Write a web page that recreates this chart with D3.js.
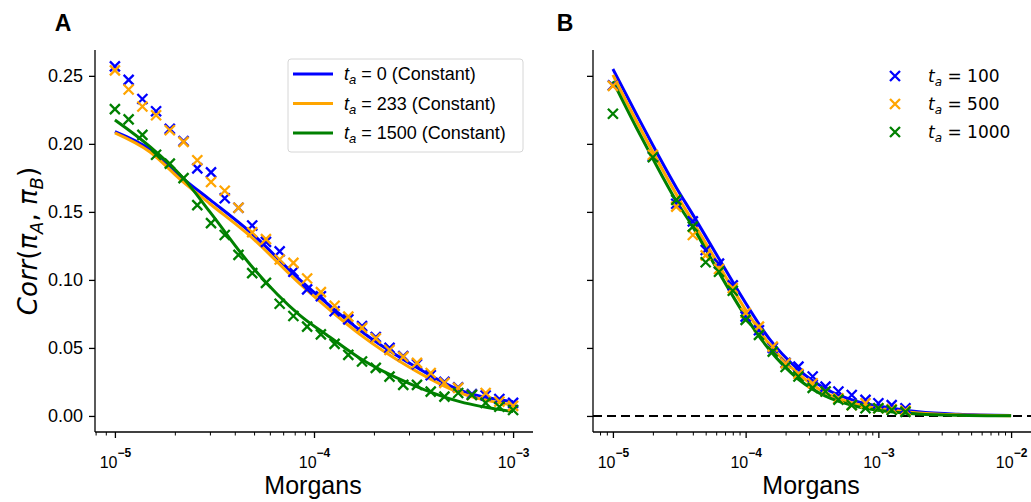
<!DOCTYPE html>
<html>
<head>
<meta charset="utf-8">
<script src="https://cdn.jsdelivr.net/npm/d3@7"></script>
<style>
  body { margin: 0; background: #fff; }
  svg text { font-family: "Liberation Sans", Arial, sans-serif; fill: #000; }
</style>
</head>
<body>
<div id="chart"></div>
<script>
// ---- data ----
// panel A: simulated points (logspace 1e-5 .. 1e-3, 30 points)
const aX = [1.000e-5, 1.172e-5, 1.374e-5, 1.610e-5, 1.887e-5, 2.212e-5, 2.593e-5, 3.039e-5, 3.562e-5, 4.175e-5,
            4.894e-5, 5.736e-5, 6.723e-5, 7.880e-5, 9.237e-5, 1.083e-4, 1.269e-4, 1.487e-4, 1.743e-4, 2.043e-4,
            2.395e-4, 2.807e-4, 3.290e-4, 3.857e-4, 4.520e-4, 5.298e-4, 6.210e-4, 7.279e-4, 8.532e-4, 1.000e-3];
const aBlue = [0.257, 0.247, 0.233, 0.224, 0.211, 0.202, 0.182, 0.179, 0.160, 0.153,
               0.140, 0.128, 0.121, 0.106, 0.093, 0.088, 0.077, 0.071, 0.066, 0.058,
               0.050, 0.044, 0.038, 0.030, 0.025, 0.021, 0.016, 0.015, 0.0125, 0.0096];
const aOrange = [0.254, 0.240, 0.2275, 0.221, 0.210, 0.2015, 0.188, 0.172, 0.1655, 0.153,
                 0.135, 0.130, 0.115, 0.1125, 0.101, 0.091, 0.081, 0.073, 0.0647, 0.057,
                 0.0485, 0.0434, 0.039, 0.0316, 0.0243, 0.0206, 0.0154, 0.0169, 0.0105, 0.0074];
const aGreen = [0.2255, 0.218, 0.2066, 0.192, 0.1855, 0.1748, 0.155, 0.1417, 0.133, 0.1184,
                0.105, 0.0978, 0.0825, 0.0735, 0.0657, 0.060, 0.053, 0.0449, 0.040, 0.0353,
                0.0289, 0.0228, 0.0228, 0.0179, 0.0142, 0.0169, 0.0154, 0.0096, 0.0068, 0.0044];
// panel A: constant-size theory curves
const aLineX = [1e-5, 1.5e-5, 2.2e-5, 3e-5, 4.8e-5, 8.5e-5, 1.2e-4, 1.7e-4, 3e-4, 5.4e-4, 1e-3];
const aLineBlue = [0.209, 0.196, 0.1745, 0.159, 0.135, 0.100, 0.081, 0.063, 0.039, 0.019, 0.0105];
const aLineOrange = [0.208, 0.194, 0.172, 0.156, 0.132, 0.097, 0.078, 0.060, 0.036, 0.017, 0.008];
const aLineGreen = [0.2176, 0.198, 0.175, 0.150, 0.111, 0.074, 0.058, 0.0424, 0.024, 0.0105, 0.0032];
const aLabels = ["0", "233", "1500"];

// panel B: simulated points
const bX = [1e-5, 2e-5, 3e-5, 4e-5, 5.0e-5, 6.3e-5, 8.0e-5, 1.0e-4, 1.26e-4, 1.6e-4,
            2.0e-4, 2.5e-4, 3.2e-4, 4.0e-4, 5.0e-4, 6.3e-4, 8.0e-4, 1.0e-3, 1.26e-3, 1.6e-3];
const bBlue = [0.243, 0.191, 0.156, 0.143, 0.122, 0.112, 0.096, 0.073, 0.063, 0.050,
               0.039, 0.0363, 0.029, 0.0216, 0.018, 0.0154, 0.0118, 0.0093, 0.008, 0.0057];
const bOrange = [0.2426, 0.1919, 0.1539, 0.133, 0.118, 0.108, 0.094, 0.0757, 0.0657, 0.051,
                 0.0387, 0.031, 0.024, 0.018, 0.013, 0.008, 0.0093, 0.0057, 0.005, 0.004];
const bGreen = [0.2221, 0.1902, 0.1588, 0.1392, 0.113, 0.106, 0.092, 0.0706, 0.0596, 0.0473,
                0.036, 0.029, 0.0206, 0.018, 0.012, 0.008, 0.0057, 0.0057, 0.0044, 0.003];
// panel B: theory curves
const bLineX = [1e-5, 1.5e-5, 2e-5, 3e-5, 4e-5, 6e-5, 1e-4, 1.5e-4, 2.5e-4, 4e-4, 7e-4, 1.2e-3, 2e-3, 4e-3, 1e-2];
const bLineBlue = [0.255, 0.222, 0.199, 0.168, 0.148, 0.119, 0.083, 0.057, 0.034, 0.020, 0.0105, 0.006, 0.003, 0.0012, 0.0004];
const bLineOrange = [0.2507, 0.217, 0.194, 0.163, 0.143, 0.114, 0.078, 0.053, 0.031, 0.017, 0.0085, 0.0045, 0.0022, 0.0008, 0.0002];
const bLineGreen = [0.246, 0.212, 0.189, 0.158, 0.139, 0.109, 0.073, 0.049, 0.027, 0.0145, 0.0068, 0.0033, 0.0015, 0.0005, 0.0001];
const bLabels = ["100", "500", "1000"];

const colors = ["#0000ff", "#ffa500", "#008000"];
const yTicks = [0, 0.05, 0.10, 0.15, 0.20, 0.25];

// ---- layout ----
const W = 1031, H = 502;
const plotTop = 50, plotBottom = 432;

const svg = d3.select("#chart").append("svg")
    .attr("width", W)
    .attr("height", H);

const y = d3.scaleLinear().domain([-0.0118, 0.269]).range([plotBottom, plotTop]);
const xA = d3.scaleLog().domain([Math.pow(10, -5.1), Math.pow(10, -2.9)]).range([95, 533]);
const xB = d3.scaleLog().domain([Math.pow(10, -5.15), Math.pow(10, -1.85)]).range([593, 1031]);

const xMark = "M-5,-5L5,5M-5,5L5,-5";

function minorTicks(x) {
    const [d0, d1] = x.domain();
    const out = [];
    for (let e = -6; e <= -1; e++) {
        for (let m = 2; m <= 9; m++) {
            const v = m * Math.pow(10, e);
            if (v >= d0 && v <= d1) out.push(v);
        }
    }
    return out;
}

function drawAxes(x, majors, showYLabels) {
    const [x0, x1] = x.range();
    // minor x ticks
    svg.append("g")
        .attr("transform", `translate(0,${plotBottom})`)
        .call(d3.axisBottom(x).tickValues(minorTicks(x)).tickSize(3.5).tickFormat(""))
        .call(g => g.select(".domain").remove())
        .call(g => g.selectAll("line").attr("stroke", "#000").attr("stroke-width", 1));
    // major x ticks
    const gx = svg.append("g")
        .attr("transform", `translate(0,${plotBottom})`)
        .call(d3.axisBottom(x).tickValues(majors).tickSize(6).tickPadding(6).tickFormat(""));
    gx.select(".domain").attr("stroke", "#000").attr("stroke-width", 1.3).attr("d", `M${x0},0H${x1}`);
    gx.selectAll("line").attr("stroke", "#000").attr("stroke-width", 1.3);
    gx.selectAll(".tick").each(function (d) {
        const t = d3.select(this).append("text")
            .attr("y", 36)
            .attr("text-anchor", "middle")
            .style("font-size", "16px");
        t.append("tspan").text("10");
        t.append("tspan").attr("dy", -11).style("font-size", "12px").style("font-weight", "bold")
            .text("\u2212" + Math.round(-Math.log10(d)));
    });
    // y axis
    const gy = svg.append("g")
        .attr("transform", `translate(${x0},0)`)
        .call(d3.axisLeft(y).tickValues(yTicks).tickSize(6).tickPadding(6)
            .tickFormat(showYLabels ? d3.format(".2f") : ""));
    gy.select(".domain").attr("stroke", "#000").attr("stroke-width", 1.3).attr("d", `M0,${plotTop}V${plotBottom}`);
    gy.selectAll("line").attr("stroke", "#000").attr("stroke-width", 1.3);
    gy.selectAll("text").style("font-size", "18px").attr("fill", "#000");
    // x title
    svg.append("text")
        .attr("x", (x0 + x1) / 2 - 1)
        .attr("y", 494)
        .attr("text-anchor", "middle")
        .style("font-size", "25px")
        .text("Morgans");
}

function drawSeries(x, lineX, lines, ptX, pts) {
    const line = d3.line()
        .x((d, i) => x(lineX[i]))
        .y(d => y(d))
        .curve(d3.curveMonotoneX);
    lines.forEach((vals, k) => {
        svg.append("path")
            .attr("d", line(vals))
            .attr("fill", "none")
            .attr("stroke", colors[k])
            .attr("stroke-width", 3);
    });
    pts.forEach((vals, k) => {
        svg.append("g").selectAll("path")
            .data(vals)
            .enter().append("path")
            .attr("transform", (d, i) => `translate(${x(ptX[i])},${y(d)})`)
            .attr("d", xMark)
            .attr("stroke", colors[k])
            .attr("stroke-width", 2.3)
            .attr("fill", "none");
    });
}

// ---- panel A ----
drawAxes(xA, [1e-5, 1e-4, 1e-3], true);
drawSeries(xA, aLineX, [aLineBlue, aLineOrange, aLineGreen], aX, [aBlue, aOrange, aGreen]);

// ---- panel B ----
drawAxes(xB, [1e-5, 1e-4, 1e-3, 1e-2], false);
svg.append("line")
    .attr("x1", xB.range()[0]).attr("x2", xB.range()[1])
    .attr("y1", y(0)).attr("y2", y(0))
    .attr("stroke", "#000")
    .attr("stroke-width", 2)
    .attr("stroke-dasharray", "9,5");
drawSeries(xB, bLineX, [bLineBlue, bLineOrange, bLineGreen], bX, [bBlue, bOrange, bGreen]);

// panel letters
svg.append("text").attr("x", 63).attr("y", 31).attr("text-anchor", "middle")
    .style("font-size", "23px").style("font-weight", "bold").text("A");
svg.append("text").attr("x", 565).attr("y", 31).attr("text-anchor", "middle")
    .style("font-size", "23px").style("font-weight", "bold").text("B");

// y label: Corr(pi_A, pi_B)
const yl = svg.append("text")
    .attr("transform", "translate(37,241) rotate(-90)")
    .attr("text-anchor", "middle")
    .style("font-family", "'DejaVu Sans', sans-serif")
    .style("font-size", "26px");
yl.append("tspan").style("font-style", "italic").text("Corr");
yl.append("tspan").text("(");
yl.append("tspan").style("font-style", "italic").text("\u03c0");
yl.append("tspan").attr("dy", 6).style("font-size", "18px").style("font-style", "italic").text("A");
yl.append("tspan").attr("dy", -6).text(", ");
yl.append("tspan").style("font-style", "italic").text("\u03c0");
yl.append("tspan").attr("dy", 6).style("font-size", "18px").style("font-style", "italic").text("B");
yl.append("tspan").attr("dy", -6).text(")");

// legend A
const legA = svg.append("g");
legA.append("rect")
    .attr("x", 288).attr("y", 59).attr("width", 235).attr("height", 93)
    .attr("rx", 3)
    .attr("fill", "#fff").attr("fill-opacity", 0.8)
    .attr("stroke", "#d6d6d6").attr("stroke-width", 1);
aLabels.forEach((lab, k) => {
    const cy = 74 + k * 29.5;
    legA.append("line")
        .attr("x1", 293).attr("x2", 333).attr("y1", cy).attr("y2", cy)
        .attr("stroke", colors[k]).attr("stroke-width", 3);
    const t = legA.append("text").attr("x", 344).attr("y", cy + 6).style("font-size", "18px");
    t.append("tspan").style("font-style", "italic").text("t");
    t.append("tspan").attr("dy", 4).style("font-size", "13px").style("font-style", "italic").text("a");
    t.append("tspan").attr("dy", -4).text(` = ${lab} (Constant)`);
});

// legend B (no frame)
const legB = svg.append("g");
bLabels.forEach((lab, k) => {
    const cy = 76 + k * 28;
    legB.append("path")
        .attr("transform", `translate(895,${cy})`)
        .attr("d", xMark)
        .attr("stroke", colors[k]).attr("stroke-width", 2.3).attr("fill", "none");
    const t = legB.append("text").attr("x", 928).attr("y", cy + 6)
        .style("font-family", "'DejaVu Sans', sans-serif").style("font-size", "17px");
    t.append("tspan").style("font-style", "italic").text("t");
    t.append("tspan").attr("dy", 4).style("font-size", "12px").style("font-style", "italic").text("a");
    t.append("tspan").attr("dy", -4).text(` = ${lab}`);
});
</script>
</body>
</html>
